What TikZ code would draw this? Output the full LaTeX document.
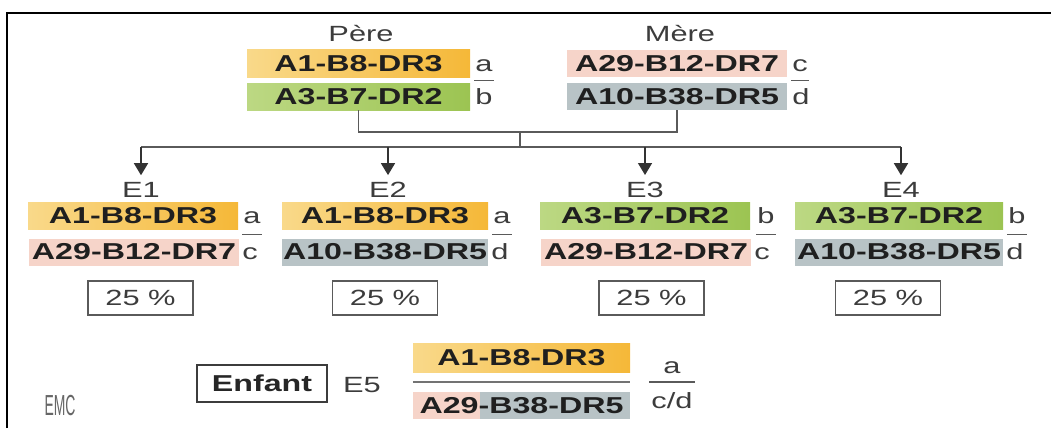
\documentclass[tikz,border=0pt]{standalone}
\usepackage{fontspec}
\setmainfont[FakeStretch=1.4]{Liberation Sans}
\newfontfamily\emcfont[FakeStretch=0.48]{Liberation Sans}
\usetikzlibrary{arrows.meta,positioning,calc}
\definecolor{orangeL}{HTML}{F9D98A}
\definecolor{orangeR}{HTML}{F5B838}
\definecolor{greenL}{HTML}{BCD883}
\definecolor{greenR}{HTML}{9CC452}
\definecolor{pinkbar}{HTML}{F6D4C9}
\definecolor{greybar}{HTML}{B8C3C6}
\definecolor{inkgrey}{HTML}{3C3C3C}
\definecolor{linegrey}{HTML}{5A5A5A}

\begin{document}
\begin{tikzpicture}[x=1pt, y=-1pt,
	bar/.style={minimum height=27pt, minimum width=210pt, inner sep=0pt, text=black!88, font=\fontsize{23}{23}\selectfont\bfseries},
	hapa/.style={bar, left color=orangeL, right color=orangeR},
	hapb/.style={bar, left color=greenL, right color=greenR},
	hapc/.style={bar, fill=pinkbar},
	hapd/.style={bar, fill=greybar},
	namelbl/.style={inner sep=2pt, text=inkgrey, font=\fontsize{22}{22}\selectfont},
	letter/.style={inner sep=0pt, text=inkgrey, font=\fontsize{22}{22}\selectfont},
	percent/.style={draw=linegrey, line width=1.3pt, minimum width=105pt, minimum height=34pt, text=inkgrey, font=\fontsize{22}{22}\selectfont},
	fracline/.style={draw=linegrey, line width=1.2pt},
	link/.style={draw=linegrey, line width=1.6pt},
	genarrow/.style={draw=black!80, line width=1.5pt, -{Triangle[width=14pt,length=12pt]}, shorten >=5pt}]
	\useasboundingbox (0,0) rectangle (1051,428);
	\draw[line width=2.5pt] (7,428) -- (7,13) -- (1051,13);

	\node[namelbl] (pere) at (361,34) {Père};
	\node[hapa, minimum width=223pt] (pu) at (358.5,63.5) {A1-B8-DR3};
	\node[hapb, minimum width=223pt] (pd) at (358.5,96.5) {A3-B7-DR2};
	\node[letter, base right=5pt of pu] (pa) {a};
	\node[letter, base right=5pt of pd] (pb) {b};
	\draw[fracline] ($(pa.west |- pu.south)+(-1,3)$) -- ($(pa.east |- pu.south)+(1,3)$);

	\node[namelbl] (mere) at (680,34) {Mère};
	\node[hapc, minimum width=220pt] (mu) at (677,63.5) {A29-B12-DR7};
	\node[hapd, minimum width=220pt] (md) at (677,96.5) {A10-B38-DR5};
	\node[letter, base right=5pt of mu] (mc) {c};
	\node[letter, base right=5pt of md] (mdd) {d};
	\draw[fracline] ($(mc.west |- mu.south)+(-1,3)$) -- ($(mc.east |- mu.south)+(1,3)$);

	\coordinate (join) at (520,132);
	\coordinate (fork) at (520,147);
	\draw[link] (pd.south) |- (join) -| (md.south);
	\draw[link] (join) -- (fork);

	\node[namelbl] (e1) at (141,190) {E1};
	\node[namelbl] (e2) at (388,190) {E2};
	\node[namelbl] (e3) at (645,190) {E3};
	\node[namelbl] (e4) at (901,190) {E4};
	\draw[link] (e1 |- fork) -- (e4 |- fork);
	\foreach \n in {1,...,4}
		\draw[genarrow] (e\n |- fork) -- (e\n.north);

	\node[hapa] (e1u) at (133,216) {A1-B8-DR3};
	\node[hapc] (e1d) at (134,252) {A29-B12-DR7};
	\node[letter, base right=5pt of e1u] (e1a) {a};
	\node[letter, base right=3pt of e1d] (e1c) {c};
	\draw[fracline] ($(e1a.west |- e1u.south)+(-1,5)$) -- ($(e1a.east |- e1u.south)+(1,5)$);
	\node[percent] (p1) at (140.5,298) {25 \%};

	\node[hapa, minimum width=206pt] (e2u) at (385,216) {A1-B8-DR3};
	\node[hapd, minimum width=206pt] (e2d) at (385,252) {A10-B38-DR5};
	\node[letter, base right=5pt of e2u] (e2a) {a};
	\node[letter, base right=3pt of e2d] (e2dd) {d};
	\draw[fracline] ($(e2a.west |- e2u.south)+(-1,5)$) -- ($(e2a.east |- e2u.south)+(1,5)$);
	\node[percent] (p2) at (385,298) {25 \%};

	\node[hapb] (e3u) at (645,216) {A3-B7-DR2};
	\node[hapc] (e3d) at (646,252) {A29-B12-DR7};
	\node[letter, base right=7pt of e3u] (e3b) {b};
	\node[letter, base right=3pt of e3d] (e3c) {c};
	\draw[fracline] ($(e3b.west |- e3u.south)+(-1,5)$) -- ($(e3b.east |- e3u.south)+(1,5)$);
	\node[percent] (p3) at (651.5,298) {25 \%};

	\node[hapb, minimum width=208pt] (e4u) at (899,216) {A3-B7-DR2};
	\node[hapd, minimum width=208pt] (e4d) at (899,252) {A10-B38-DR5};
	\node[letter, base right=5pt of e4u] (e4b) {b};
	\node[letter, base right=3pt of e4d] (e4dd) {d};
	\draw[fracline] ($(e4b.west |- e4u.south)+(-1,5)$) -- ($(e4b.east |- e4u.south)+(1,5)$);
	\node[percent] (p4) at (888,298) {25 \%};

	\node[draw=inkgrey, line width=1.5pt, minimum width=130pt, minimum height=37pt, inner sep=0pt, text=black!85, font=\fontsize{23}{23}\selectfont\bfseries] (enfant) at (262,383.5) {Enfant};
	\node[namelbl] (e5) at (362,385) {E5};
	\node[hapa, minimum width=217pt, minimum height=29pt] (e5u) at (521.5,357.5) {A1-B8-DR3};
	\node[hapd, minimum width=217pt, minimum height=27pt,
		path picture={\fill[pinkbar] (path picture bounding box.south west) rectangle ([xshift=67pt]path picture bounding box.north west);}] (e5d) at (521.5,405.5) {A29-B38-DR5};
	\draw[draw=black!55, line width=2.5pt] ($(e5u.south west)!0.5!(e5d.north west)$) -- ($(e5u.south east)!0.5!(e5d.north east)$);
	\node[letter] (e5a) at (672,368) {a};
	\node[letter] (e5cd) at (672,401) {c/d};
	\draw[fracline] ($(e5cd.west |- e5u.south)!0.5!(e5cd.west |- e5d.north)+(-2,0)$) -- ($(e5cd.east |- e5u.south)!0.5!(e5cd.east |- e5d.north)+(2,0)$);

	\node[text=black!60, font=\emcfont\fontsize{29}{29}\selectfont] (emc) at (60,406) {EMC};
\end{tikzpicture}
\end{document}
